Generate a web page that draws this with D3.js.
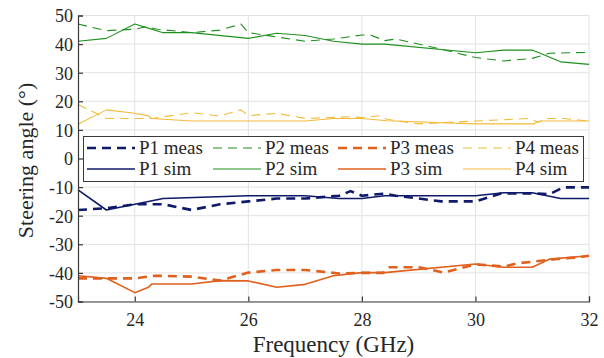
<!DOCTYPE html>
<html><head><meta charset="utf-8">
<script src="https://cdn.jsdelivr.net/npm/d3@7"></script>
<style>
svg text { font-family: "Liberation Serif", "Times New Roman", Times, "Nimbus Roman", Tinos !important; }
</style>
</head><body style="margin:0">
<svg id="c" width="604" height="358"></svg>
<script>
// ---- data ----
const xTicks = [24, 26, 28, 30, 32];
const yTicks = [50, 40, 30, 20, 10, 0, -10, -20, -30, -40, -50];

const p1MeasF = [23,23.5,24,24.5,25,25.5,26,26.5,27,27.6,27.8,28,28.38,28.6,29.4,30,30.45,31,31.3,31.55,32];
const p1MeasV = [-18,-17.4,-16,-16,-18,-16,-15,-14,-14,-13,-11.4,-13,-12.3,-13,-15,-15,-12.2,-12.2,-12.5,-10.1,-10.1];
const p1SimF  = [23,23.5,24,24.5,26,27,27.6,28,28.4,30,30.5,31,31.5,32];
const p1SimV  = [-11,-18,-16,-14,-13,-13,-14,-14,-13,-13,-12,-12,-14,-14];

const p2MeasF = [23,23.5,24,24.2,24.4,25,25.5,25.87,26,26.4,27,27.5,28,28.15,28.4,28.6,29.4,30,30.5,31,31.3,32];
const p2MeasV = [47,44.7,45.2,46.1,45.2,44,44.9,47,44,42.8,41,41.8,43.2,43.2,41.2,41.8,38.2,35.3,34.1,35,36.8,37.1];
const p2SimF  = [23,23.5,24,24.25,24.5,25,26,26.5,27,27.5,28,28.4,30,30.5,31,31.5,32];
const p2SimV  = [41,42,47,45.5,44,44,42,43.8,43,41,40,40,37,37.9,37.9,33.8,32.9];

const p3MeasF = [23,23.5,24,24.36,25,25.5,26,26.5,27,27.6,28,28.38,28.47,29,29.44,30,30.5,30.75,31,31.4,31.8,32];
const p3MeasV = [-41.9,-41.9,-41.9,-41,-41.3,-42.7,-39.9,-39,-39,-40.2,-40,-40,-38,-38,-39.9,-37,-37.8,-36.6,-36.1,-35.2,-34.6,-34];
const p3SimF  = [23,23.5,24,24.24,24.3,25,25.5,26,26.5,27,27.5,28,28.4,30,30.5,31,31.3,32];
const p3SimV  = [-41,-41.9,-46.9,-45,-43.9,-43.9,-42.7,-42.8,-45,-44,-41,-39.9,-39.9,-36.9,-38,-38,-35.2,-34];

const p4MeasF = [23,23.5,24,24.3,25,25.5,25.87,26,26.5,27,27.8,28,28.35,28.44,29,30,30.96,31.1,31.26,31.55,32];
const p4MeasV = [18.9,14,14,14,16,14.9,17,15,15.8,14,14.6,14.3,15,13.7,12.1,13.1,14,12.6,14,14,13.1];
const p4SimF  = [23,23.5,24,24.24,24.3,25,27,27.5,28,28.44,30,31.02,31.14,32];
const p4SimV  = [12,17,15.8,14.9,14,13.1,13.1,14,14,13.2,12.1,12.1,13.1,13.1];

const seriesNames = ["P1 meas","P2 meas","P3 meas","P4 meas","P1 sim","P2 sim","P3 sim","P4 sim"];

// ---- styles ----
const colors = {P1:"#0f1a6b", P2:"#1f8f1f", P3:"#e0601e", P4:"#f2bb3c"};
const styles = [
  {f:p1MeasF, v:p1MeasV, c:colors.P1, w:2.6, dash:"9,6"},
  {f:p2MeasF, v:p2MeasV, c:colors.P2, w:1.1, dash:"9,6"},
  {f:p3MeasF, v:p3MeasV, c:colors.P3, w:2.6, dash:"9,6"},
  {f:p4MeasF, v:p4MeasV, c:colors.P4, w:1.1, dash:"9,6"},
  {f:p1SimF,  v:p1SimV,  c:colors.P1, w:1.6, dash:null},
  {f:p2SimF,  v:p2SimV,  c:colors.P2, w:1.1, dash:null},
  {f:p3SimF,  v:p3SimV,  c:colors.P3, w:1.6, dash:null},
  {f:p4SimF,  v:p4SimV,  c:colors.P4, w:1.1, dash:null}
];
const series = styles.map((s, i) => Object.assign({name: seriesNames[i]}, s));

const L = 78, R = 589, T = 15.5, B = 301.5;
const svg = d3.select("#c");
const x = d3.scaleLinear().domain([23, 32]).range([L, R]);
const y = d3.scaleLinear().domain([-50, 50]).range([B, T]);
const ink = "#262626";
function serif(sel, size) {
  return sel.attr("font-family", "Liberation Serif").style("font-size", size + "px").attr("fill", ink);
}

// grid
const g = svg.append("g");
g.selectAll(".gx").data(xTicks).enter().append("line")
  .attr("x1", d => x(d)).attr("x2", d => x(d)).attr("y1", T).attr("y2", B)
  .attr("stroke", "#e2e2e2").attr("stroke-width", 1);
g.selectAll(".gy").data(yTicks).enter().append("line")
  .attr("x1", L).attr("x2", R).attr("y1", d => y(d)).attr("y2", d => y(d))
  .attr("stroke", "#e2e2e2").attr("stroke-width", 1);

// lines
const lineGen = d3.line().x(d => x(d[0])).y(d => y(d[1]));
const plot = svg.append("g");
series.forEach(s => {
  const pts = s.f.map((f, i) => [f, s.v[i]]);
  plot.append("path").datum(pts).attr("d", lineGen)
    .attr("fill", "none").attr("stroke", s.c).attr("stroke-width", s.w)
    .attr("stroke-dasharray", s.dash).attr("stroke-linejoin", "round");
});

// axes
const xAxis = d3.axisBottom(x).tickValues(xTicks).tickSize(-5).tickPadding(12).tickFormat(d3.format("d"));
const yAxis = d3.axisLeft(y).tickValues(yTicks).tickSize(-5).tickPadding(5).tickFormat(d => d < 0 ? "-" + Math.abs(d) : String(d));
const gx = svg.append("g").attr("transform", `translate(0,${B})`).call(xAxis);
const gy = svg.append("g").attr("transform", `translate(${L},0)`).call(yAxis);
[gx, gy].forEach(a => {
  a.attr("font-family", "Liberation Serif").attr("font-size", 18);
  a.select(".domain").attr("stroke", "#3a3a3a").attr("stroke-width", 1.2);
  a.selectAll(".tick line").attr("stroke", "#3a3a3a").attr("stroke-width", 1.2);
  serif(a.selectAll("text"), 18);
});
gy.selectAll(".tick text").attr("dy", "0.36em");

// legend
const lg = svg.append("g");
lg.append("rect").attr("x", 83.5).attr("y", 136.5).attr("width", 500).attr("height", 45)
  .attr("fill", "#fff").attr("stroke", "#3a3a3a").attr("stroke-width", 1);
const colX = [87, 213, 338, 463];
const rowY = [148, 169];
series.forEach((s, i) => {
  const col = i % 4, row = Math.floor(i / 4);
  const lx = colX[col], ly = rowY[row];
  lg.append("line").attr("x1", lx).attr("x2", lx + 48).attr("y1", ly).attr("y2", ly)
    .attr("stroke", s.c).attr("stroke-width", s.w).attr("stroke-dasharray", s.dash);
  serif(lg.append("text").attr("x", lx + 52).attr("y", ly).attr("dy", "0.34em"), 19).text(s.name);
});

// axis labels
serif(svg.append("text").attr("x", (L + R) / 2).attr("y", 352).attr("text-anchor", "middle"), 23)
  .text("Frequency (GHz)");
serif(svg.append("text").attr("transform", `translate(33,${(T + B) / 2 + 2}) rotate(-90)`).attr("text-anchor", "middle"), 22)
  .text("Steering angle (°)");
</script>
</body></html>
